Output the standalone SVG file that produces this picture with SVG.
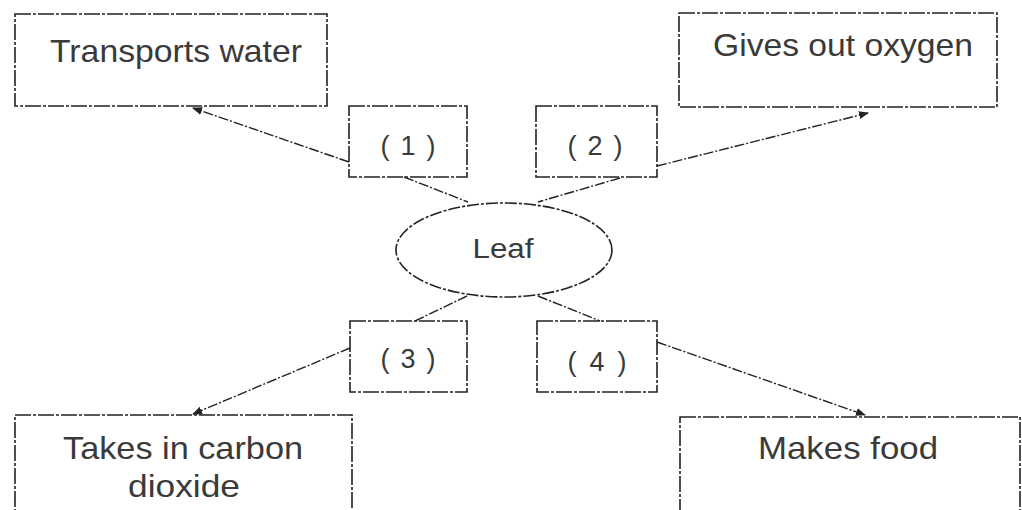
<svg xmlns="http://www.w3.org/2000/svg" width="1022" height="510" viewBox="0 0 1022 510">
<style>
.box{fill:none;stroke:#222;stroke-width:1.6;stroke-dasharray:16 2 3 2}
.ell{fill:none;stroke:#222;stroke-width:1.6;stroke-dasharray:12 2 3 2}
.conn{fill:none;stroke:#222;stroke-width:1.4;stroke-dasharray:10 2 2 2}
text{font-family:"Liberation Sans",Arial,sans-serif;fill:#3a3a3a;text-anchor:middle}
.big{font-size:32px}
.num{font-size:27px}
</style>
<defs>
<marker id="ah" viewBox="0 0 10 10" refX="9" refY="5" markerWidth="10" markerHeight="10" markerUnits="userSpaceOnUse" orient="auto">
<path d="M0,1 L10,5 L0,9 Z" fill="#222"/>
</marker>
</defs>
<rect width="1022" height="510" fill="#fff"/>
<g id="connectors">
<line class="conn" x1="349" y1="162" x2="193" y2="108" marker-end="url(#ah)"/>
<line class="conn" x1="657" y1="166" x2="868" y2="113" marker-end="url(#ah)"/>
<line class="conn" x1="350" y1="348" x2="193" y2="414" marker-end="url(#ah)"/>
<line class="conn" x1="657" y1="342" x2="865" y2="415" marker-end="url(#ah)"/>
<line class="conn" x1="404" y1="177" x2="468" y2="202"/>
<line class="conn" x1="620" y1="178" x2="538" y2="202"/>
<line class="conn" x1="467" y1="296" x2="415" y2="321"/>
<line class="conn" x1="538" y1="296" x2="600" y2="321"/>
</g>
<g id="n-transports">
<rect class="box" x="15" y="14" width="312" height="92"/>
<text class="big" x="176" y="62" textLength="252" lengthAdjust="spacingAndGlyphs">Transports water</text>
</g>
<g id="n-oxygen">
<rect class="box" x="679" y="13" width="318" height="94"/>
<text class="big" x="843" y="56" textLength="260" lengthAdjust="spacingAndGlyphs">Gives out oxygen</text>
</g>
<g id="n-1">
<rect class="box" x="349" y="106" width="118" height="71"/>
<text class="num" x="408" y="155" xml:space="preserve" textLength="55">( 1 )</text>
</g>
<g id="n-2">
<rect class="box" x="536" y="106" width="121" height="71"/>
<text class="num" x="595" y="155" xml:space="preserve" textLength="55">( 2 )</text>
</g>
<g id="n-leaf">
<ellipse class="ell" cx="504" cy="250" rx="108" ry="47"/>
<text class="num" x="503" y="258" textLength="61" lengthAdjust="spacingAndGlyphs">Leaf</text>
</g>
<g id="n-3">
<rect class="box" x="350" y="321" width="117" height="71"/>
<text class="num" x="408" y="368" xml:space="preserve" textLength="55">( 3 )</text>
</g>
<g id="n-4">
<rect class="box" x="537" y="321" width="120" height="71"/>
<text class="num" x="597" y="371" xml:space="preserve" textLength="59">( 4 )</text>
</g>
<g id="n-carbon">
<rect class="box" x="15" y="415" width="337" height="100"/>
<text class="big" x="183" y="459" textLength="240" lengthAdjust="spacingAndGlyphs">Takes in carbon</text>
<text class="big" x="184" y="497" textLength="112" lengthAdjust="spacingAndGlyphs">dioxide</text>
</g>
<g id="n-food">
<rect class="box" x="680" y="417" width="340" height="100"/>
<text class="big" x="848" y="459" textLength="180" lengthAdjust="spacingAndGlyphs">Makes food</text>
</g>
</svg>
